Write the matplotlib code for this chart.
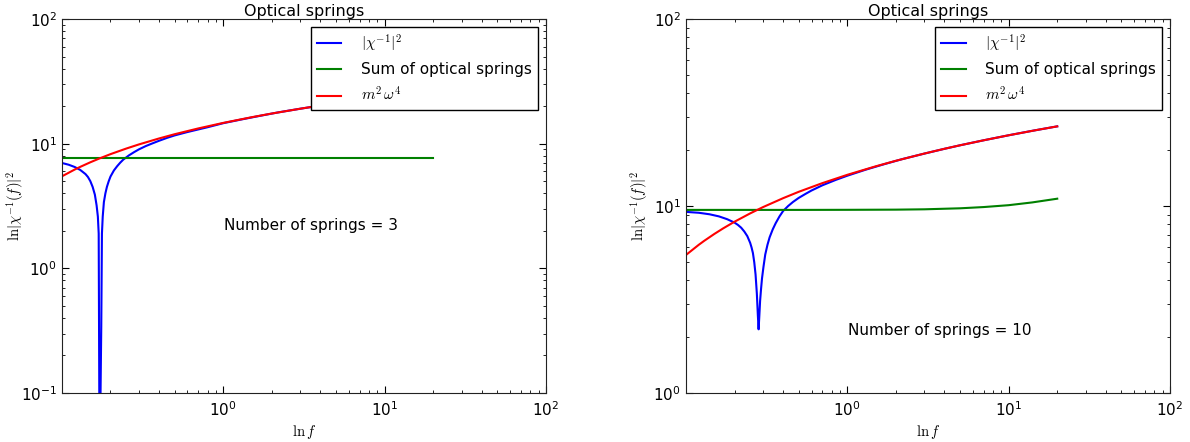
import matplotlib
matplotlib.use('Agg')
import matplotlib.pyplot as plt

plt.rcParams['mathtext.fontset'] = 'cm'

# frequencies (x) and values
f_red = [0.1, 0.12, 0.13, 0.15, 0.17, 0.2, 0.25, 0.3, 0.4, 0.5, 0.7, 1.0, 1.5, 2.0, 3.0, 4.0, 5.0, 7.0, 10.0, 15.0, 20.0]
red = [5.47, 6.20, 6.52, 7.09, 7.59, 8.24, 9.13, 9.86, 11.01, 11.91, 13.25, 14.68, 16.30, 17.45, 19.07, 20.23, 21.12, 22.46, 23.89, 25.51, 26.66]

# left panel: 3 springs
f_blue_3 = [0.1, 0.11, 0.12, 0.13, 0.14, 0.145, 0.15, 0.155, 0.16, 0.164, 0.167, 0.169, 0.1712,
            0.1753, 0.177, 0.179, 0.182, 0.186, 0.19, 0.195, 0.2, 0.21, 0.22, 0.23, 0.24, 0.26, 0.28, 0.3,
            0.33, 0.36, 0.4, 0.45, 0.5, 0.6, 0.8, 1.0, 1.3, 1.7, 2.2, 3.0, 4.0, 5.0, 7.0, 10.0, 14.0, 20.0]
blue_3 = [7.0, 6.78, 6.5, 6.15, 5.7, 5.4, 5.0, 4.5, 3.9, 3.2, 2.6, 1.9, 0.02,
          0.34, 1.9, 2.6, 3.4, 4.0, 4.5, 5.0, 5.45, 6.1, 6.6, 7.05, 7.45, 8.05, 8.55, 9.0,
          9.55, 10.0, 10.55, 11.15, 11.65, 12.4, 13.55, 14.6, 15.65, 16.75, 17.84, 19.07,
          20.22, 21.12, 22.46, 23.89, 25.24, 26.66]
f_green_3 = [0.1, 0.5, 1.0, 5.0, 10.0, 20.0]
green_3 = [7.7, 7.7, 7.7, 7.7, 7.7, 7.7]

# right panel: 10 springs
f_blue_10 = [0.1, 0.12, 0.14, 0.16, 0.18, 0.2, 0.21, 0.22, 0.23, 0.24, 0.25, 0.255, 0.26, 0.265, 0.27,
             0.275, 0.279, 0.282, 0.285, 0.288, 0.292, 0.296, 0.302, 0.31, 0.32, 0.33, 0.345, 0.36, 0.38,
             0.4, 0.43, 0.46, 0.5, 0.55, 0.6, 0.7, 0.85, 1.0, 1.3, 1.7, 2.2, 3.0, 4.0, 5.0, 7.0, 10.0,
             14.0, 20.0]
blue_10 = [9.3, 9.2, 9.03, 8.8, 8.5, 8.15, 7.92, 7.65, 7.3, 6.9, 6.35, 6.0, 5.6, 5.0, 4.3,
           3.4, 2.6, 2.19, 2.6, 3.1, 3.6, 4.1, 4.7, 5.5, 6.2, 6.8, 7.5, 8.1, 8.8,
           9.4, 10.0, 10.5, 11.05, 11.6, 12.1, 12.9, 13.8, 14.52, 15.64, 16.75, 17.83, 19.06,
           20.22, 21.12, 22.46, 23.89, 25.24, 26.66]
f_green_10 = [0.1, 0.5, 1.0, 2.0, 3.0, 5.0, 7.0, 10.0, 14.0, 20.0]
green_10 = [9.53, 9.53, 9.54, 9.56, 9.6, 9.72, 9.87, 10.1, 10.45, 10.94]

legend_labels = [r'$|\chi^{-1}|^2$', 'Sum of optical springs', r'$m^2\,\omega^4$']


def draw_panel(ax, f_blue, blue, f_green, green, ylim, n_springs, text_y):
    ax.plot(f_blue, blue, color='#0000ff', lw=1.5, label=legend_labels[0])
    ax.plot(f_green, green, color='#008000', lw=1.5, label=legend_labels[1])
    ax.plot(f_red, red, color='#ff0000', lw=1.5, label=legend_labels[2])
    ax.set_xscale('log')
    ax.set_yscale('log')
    ax.set_xlim(0.1001, 100)
    ax.set_ylim(*ylim)
    ax.set_title('Optical springs', fontsize=11.5, pad=2)
    ax.set_xlabel(r'$\ln f$', fontsize=10.5)
    ax.set_ylabel(r'$\ln|\chi^{-1}(f)|^2$', fontsize=10.5)
    ax.xaxis.set_label_coords(0.5, -0.08)
    ax.yaxis.set_label_coords(-0.074, 0.5)
    ax.tick_params(which='both', direction='in', top=True, right=True, labelsize=11)
    ax.tick_params(which='major', length=5)
    ax.tick_params(which='minor', length=2.5)
    ax.tick_params(axis='x', pad=5)
    for s in ax.spines.values():
        s.set_color('#222222')
    ax.text(0.335, text_y, 'Number of springs = %d' % n_springs, transform=ax.transAxes,
            fontsize=11, va='center', ha='left')
    leg = ax.legend(loc='upper right', fontsize=11, fancybox=False, framealpha=1,
                    edgecolor='black', handlelength=1.6, handletextpad=1.3, borderaxespad=0.5,
                    labelspacing=0.55)
    leg.get_frame().set_linewidth(1.0)


def main():
    fig = plt.figure(figsize=(11.9, 4.42), dpi=100)
    ax1 = fig.add_axes([0.0521, 0.1109, 0.4067, 0.8461])
    ax2 = fig.add_axes([0.5765, 0.1109, 0.4067, 0.8461])
    draw_panel(ax1, f_blue_3, blue_3, f_green_3, green_3, (0.1, 100), 3, 0.447)
    draw_panel(ax2, f_blue_10, blue_10, f_green_10, green_10, (1, 100), 10, 0.166)
    fig.savefig('out.png', dpi=100)


if __name__ == '__main__':
    main()
